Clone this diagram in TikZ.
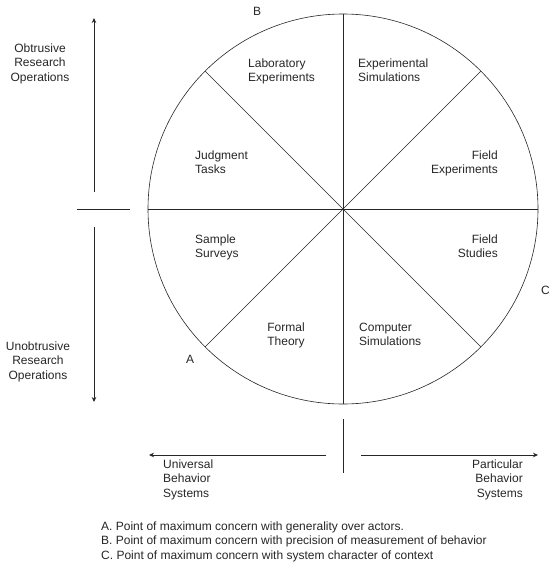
\documentclass[tikz,border=0pt]{standalone}
\usepackage{fontspec}
\setmainfont{Liberation Sans}
\usetikzlibrary{arrows.meta}

\tikzset{wnode/.style = {shape = circle,
                         color = black!85,
                         inner sep = 0pt,
                         outer sep = 0pt,
                         minimum size = 390pt,
                         line width = 0.6pt,
                         draw},
         txt/.style = {font = \fontsize{12}{14.5}\selectfont,
                       inner sep = 0pt,
                       text = black!85},
         wline/.style = {color = black!85, line width = 0.6pt},
         axis/.style = {color = black!85, line width = 0.8pt,
                        -{Stealth[length=5pt,width=4.5pt]}}}

\begin{document}
\begin{tikzpicture}[x=1pt,y=-1pt]
		\useasboundingbox (0,0) rectangle (549,581);
		% the wheel
		\node[wnode] (wheel) at (343,209) {};
		\draw[wline] (wheel.90) -- (wheel.270);
		\draw[wline] (wheel.180) -- (wheel.0);
		\draw[wline] (wheel.135) -- (wheel.315);
		\draw[wline] (wheel.45) -- (wheel.225);
		% sector labels (base = last line)
		\node[txt, anchor = base west, align = left] (lab) at (248,81.5) {Laboratory\\Experiments};
		\node[txt, anchor = base west, align = left] (exs) at (358,81.5) {Experimental\\Simulations};
		\node[txt, anchor = base west, align = left] (jud) at (195,173.5) {Judgment\\Tasks};
		\node[txt, anchor = base east, align = right] (fex) at (498,173.5) {Field\\Experiments};
		\node[txt, anchor = base west, align = left] (sur) at (195,257.5) {Sample\\Surveys};
		\node[txt, anchor = base east, align = right] (fst) at (498,257.5) {Field\\Studies};
		\node[txt, anchor = base, align = center] (fth) at (286,345.5) {Formal\\Theory};
		\node[txt, anchor = base west, align = left] (csim) at (359,345.5) {Computer\\Simulations};
		% points A, B, C
		\node[txt, anchor = base] (B) at (257,15) {B};
		\node[txt, anchor = base] (A) at (190,363) {A};
		\node[txt, anchor = base west] (C) at (541,294) {C};
		% vertical axis
		\coordinate (vtop) at (94,18);
		\coordinate (vup) at (94,192);
		\coordinate (vdown) at (94,227);
		\coordinate (vbot) at (94,402);
		\draw[axis] (vup) -- (vtop);
		\draw[axis] (vdown) -- (vbot);
		\coordinate (tl) at (77,209);
		\coordinate (tr) at (130,209);
		\draw[wline, line width = 0.8pt] (tl) -- (tr);
		\node[txt, anchor = base, align = center] (obt) at (40,81) {Obtrusive\\Research\\Operations};
		\node[txt, anchor = base, align = center] (unobt) at (38,379) {Unobtrusive\\Research\\Operations};
		% horizontal axis
		\coordinate (hl) at (149,455);
		\coordinate (hleft) at (326,455);
		\coordinate (hright) at (361,455);
		\coordinate (hr) at (538,455);
		\draw[axis] (hleft) -- (hl);
		\draw[axis] (hright) -- (hr);
		\coordinate (bt) at (343,419);
		\coordinate (bb) at (343,473);
		\draw[wline] (bt) -- (bb);
		\node[txt, anchor = base west, align = left] (univ) at (163,497) {Universal\\Behavior\\Systems};
		\node[txt, anchor = base east, align = right] (part) at (523,497) {Particular\\Behavior\\Systems};
		% notes
		\node[txt, anchor = base west, align = left] (notes) at (101,559) {A. Point of maximum concern with generality over actors.\\
			B. Point of maximum concern with precision of measurement of behavior\\
			C. Point of maximum concern with system character of context};
	\end{tikzpicture}
\end{document}
